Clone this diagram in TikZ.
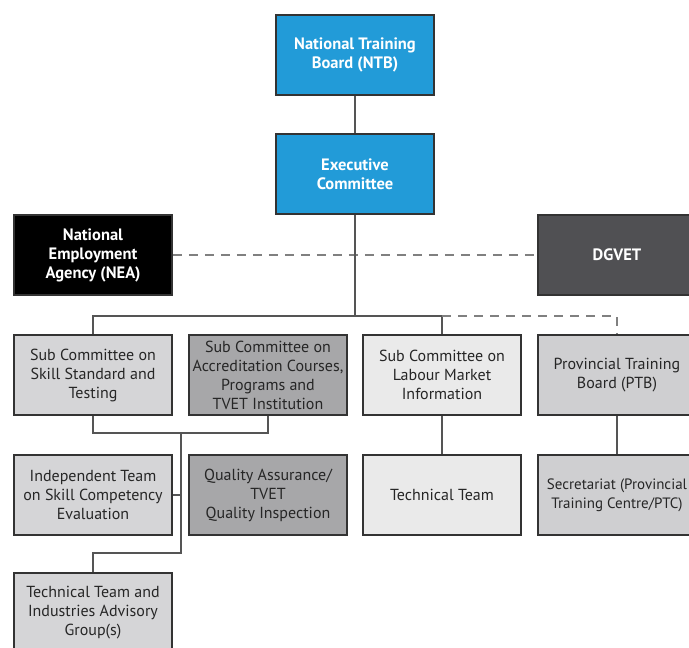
\documentclass[tikz,border=0pt]{standalone}
\usepackage{fontspec}
\setmainfont{PT Sans}
\definecolor{ntbblue}{HTML}{229BD8}
\definecolor{dgvetgray}{HTML}{505053}
\definecolor{boxlight}{HTML}{D5D5D7}
\definecolor{boxdark}{HTML}{A7A7A9}
\definecolor{boxpale}{HTML}{EAEAEA}
\definecolor{boxmid}{HTML}{CFCFD1}
\definecolor{linegray}{HTML}{555555}

\begin{document}
\begin{tikzpicture}[x=1pt, y=-1pt,
		unit/.style={draw=black!80, line width=1.8pt, minimum width=158pt, minimum height=80pt,
			align=center, inner sep=2pt, font=\fontsize{16}{19}\selectfont, text=black!85},
		boldunit/.style={unit, text=white, font=\fontsize{16.5}{19}\selectfont\bfseries},
		link/.style={linegray, line width=1.8pt},
		loose/.style={link, dash pattern=on 9pt off 7pt, draw=black!50, line width=2.2pt}]
		\clip (0,0) rectangle (689,648);
		\fill[white] (0,0) rectangle (689,648);
		\node[boldunit, fill=ntbblue] (ntb) at (355,55) {National Training\\Board (NTB)};
		\node[boldunit, fill=ntbblue] (exec) at (355,174) {Executive\\Committee};
		\node[boldunit, fill=black] (nea) at (93,255) {National\\Employment\\Agency (NEA)};
		\node[boldunit, fill=dgvetgray] (dgvet) at (617,255) {DGVET};
		\node[unit, fill=boxlight] (skill) at (93,375) {Sub Committee on\\Skill Standard and\\Testing};
		\node[unit, fill=boxdark] (accred) at (268,375) {Sub Committee on\\Accreditation Courses,\\Programs and\\TVET Institution};
		\node[unit, fill=boxpale] (labour) at (442,375) {Sub Committee on\\Labour Market\\Information};
		\node[unit, fill=boxmid] (ptb) at (617,375) {Provincial Training\\Board (PTB)};
		\node[unit, fill=boxlight] (indep) at (93,495) {Independent Team\\on Skill Competency\\Evaluation};
		\node[unit, fill=boxdark] (quality) at (268,495) {Quality Assurance/\\TVET\\Quality Inspection};
		\node[unit, fill=boxpale] (techteam) at (442,495) {Technical Team};
		\node[unit, fill=boxmid, font=\fontsize{15}{19}\selectfont] (secret) at (617,495) {Secretariat (Provincial\\Training Centre/PTC)};
		\node[unit, fill=boxlight] (techadv) at (93,613) {Technical Team and\\Industries Advisory\\Group(s)};
		\coordinate (bus) at (355,316);
		\coordinate (join) at (181,433);
		\coordinate (elbow) at (181,553);
		\draw[link] (ntb) -- (exec);
		\draw[loose] (nea) -- (dgvet);
		\draw[link] (exec) -- (bus);
		\draw[link] (bus) -| (skill);
		\draw[link] (bus) -| (labour);
		\draw[loose] (labour.north |- bus) -| (ptb);
		\draw[link] (skill) |- (join) -| (accred);
		\draw[link] (join) -- (elbow) -| (techadv);
		\draw[link] (indep.east) -- (indep.east -| join);
		\draw[link] (labour) -- (techteam);
		\draw[link] (ptb) -- (secret);
	\end{tikzpicture}
\end{document}
